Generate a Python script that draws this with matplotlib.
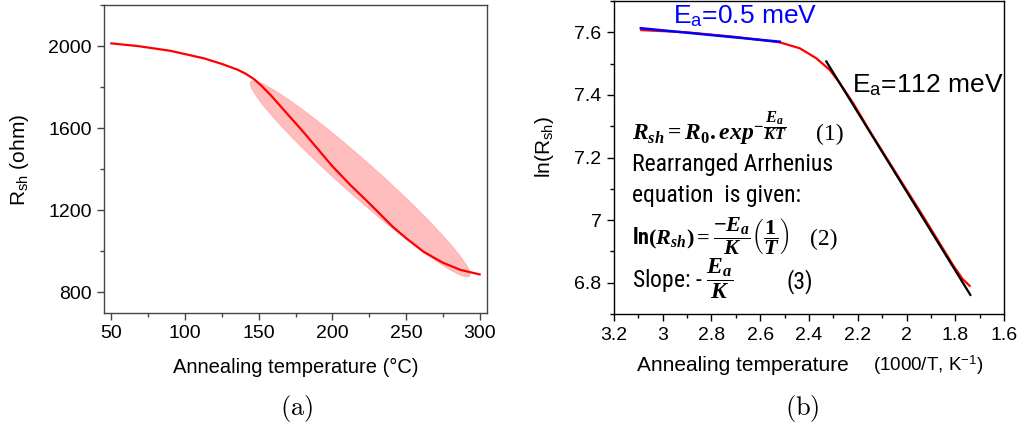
import matplotlib
matplotlib.use("Agg")
import matplotlib.pyplot as plt
import numpy as np
from matplotlib import font_manager
from matplotlib.patches import Polygon
from matplotlib.ticker import FuncFormatter, MultipleLocator

# panel (a): sheet resistance vs annealing temperature
temp_c = [50, 68, 90, 113, 125, 136, 141, 147, 152, 158, 164, 170, 175, 181, 190, 200, 212, 225,
          241, 250, 262, 275, 287, 300]
r_sh = [2013, 2000, 1977, 1940, 1913, 1884, 1866, 1838, 1806, 1762, 1714, 1665, 1625, 1576, 1500,
        1415, 1325, 1235, 1120, 1065, 998, 945, 910, 888]
# highlighted region (ends of the ellipse, data coords)
ellipse_ends = [(144.6, 1827), (293.2, 880)]

# panel (b): Arrhenius plot
inv_t = [3.088, 2.903, 2.712, 2.520, 2.438, 2.370, 2.315, 2.274, 2.219, 2.151, 2.083, 2.014,
         1.946, 1.878, 1.809, 1.770, 1.741]
ln_r = [7.607, 7.600, 7.586, 7.568, 7.549, 7.517, 7.480, 7.438, 7.374, 7.285, 7.200, 7.114,
        7.030, 6.944, 6.856, 6.812, 6.790]
fit_low_x = [3.09, 2.52]
fit_low_y = [7.613, 7.570]
fit_high_x = [2.329, 1.738]
fit_high_y = [7.507, 6.761]

W, H = 1030, 430


def pick_narrow():
    cond = ("condensed", "semi-condensed", "extra-condensed", "ultra-condensed")
    found = []
    for f in font_manager.fontManager.ttflist:
        nm = f.name
        if "Mono" in nm or "Serif" in nm:
            continue
        if f.stretch in cond or "Narrow" in nm or "Condensed" in nm:
            if f.style == "normal":
                found.append((nm, f.stretch))
    pref = ["Liberation Sans Narrow", "Roboto Condensed", "Open Sans Condensed", "Noto Sans", "DejaVu Sans"]
    for p in pref:
        for nm, st in found:
            if nm == p:
                return nm, st
    if found:
        return found[0]
    return None, None


NARROW, NARROW_STRETCH = pick_narrow()
if NARROW is None:
    NARROW, NARROW_STRETCH, NARROW_SIZE = "Liberation Sans", "normal", 15
else:
    NARROW_SIZE = 17

plt.rcParams["font.family"] = ["Liberation Sans", "DejaVu Sans"]
plt.rcParams["mathtext.fontset"] = "custom"
plt.rcParams["mathtext.rm"] = "Liberation Serif:bold"
plt.rcParams["mathtext.bf"] = "Liberation Serif:bold"
plt.rcParams["mathtext.it"] = "Liberation Serif:italic:bold"
plt.rcParams["mathtext.sf"] = "Liberation Sans:bold"


def fx(px):
    return px / W


def fy(py):
    return 1 - py / H


def style_axes(ax, color):
    for s in ax.spines.values():
        s.set_color(color)
        s.set_linewidth(1.0)
    ax.tick_params(which="major", direction="out", length=5, width=1, labelsize=14, pad=4, color=color)
    ax.tick_params(which="minor", direction="out", length=3, width=1, color=color)
    ax.xaxis.set_major_formatter(FuncFormatter(lambda v, p: f"{v:g}"))
    ax.yaxis.set_major_formatter(FuncFormatter(lambda v, p: f"{v:g}"))


def narrow_text(x, y, s, **kw):
    kw.setdefault("fontsize", NARROW_SIZE)
    return fig.text(x, y, s, family=NARROW, stretch=NARROW_STRETCH, va="baseline", **kw)


fig = plt.figure(figsize=(W / 100, H / 100), dpi=100)

# ---- (a)
ax1 = fig.add_axes([fx(104), fy(313), (487 - 104) / W, (313 - 5) / H])
ax1.set_xlim(45, 305)
ax1.set_ylim(700, 2200)
ax1.xaxis.set_major_locator(MultipleLocator(50))
ax1.xaxis.set_minor_locator(MultipleLocator(25))
ax1.yaxis.set_minor_locator(MultipleLocator(200))
ax1.set_yticks([800, 1200, 1600, 2000])
style_axes(ax1, "#444444")

p1 = ax1.transData.transform(ellipse_ends[0])
p2 = ax1.transData.transform(ellipse_ends[1])
c = (p1 + p2) / 2
u = (p2 - p1) / 2
n = np.array([-u[1], u[0]]) / np.hypot(*u) * 17
t = np.linspace(0, 2 * np.pi, 240)
pts = c + np.cos(t)[:, None] * u + np.sin(t)[:, None] * n
pts = ax1.transData.inverted().transform(pts)
ax1.add_patch(Polygon(pts, closed=True, facecolor=(1, 0, 0, 0.26), edgecolor=(1, 0, 0, 0.12), lw=1, zorder=1))
ax1.plot(temp_c, r_sh, color="#ff0000", lw=1.6, zorder=3)

fig.text(fx(296), fy(373), "Annealing temperature (°C)", ha="center", va="baseline", fontsize=14.5)
fig.text(fx(20), fy(160), r"R$_\mathregular{sh}$ (ohm)", ha="center", va="center", rotation=90, fontsize=15)
fig.text(fx(297), fy(409), r"$\mathrm{(a)}$", ha="center", va="center", fontsize=19, math_fontfamily="cm")

# ---- (b)
ax2 = fig.add_axes([fx(614), fy(314), (1004 - 614) / W, (314 - 1) / H])
ax2.set_xlim(3.2, 1.6)
ax2.set_ylim(6.7, 7.7)
ax2.xaxis.set_major_locator(MultipleLocator(0.2))
ax2.xaxis.set_minor_locator(MultipleLocator(0.1))
ax2.yaxis.set_minor_locator(MultipleLocator(0.1))
ax2.set_yticks([6.8, 7.0, 7.2, 7.4, 7.6])
style_axes(ax2, "black")

ax2.plot(inv_t, ln_r, color="#ff0000", lw=1.6, zorder=2)
ax2.plot(fit_low_x, fit_low_y, color="#0000ff", lw=1.8, zorder=3)
ax2.plot(fit_high_x, fit_high_y, color="black", lw=1.6, zorder=3)

fig.text(fx(673), fy(23), r"E$_\mathregular{a}$=0.5 meV", color="#0000ff", fontsize=19, va="baseline")
fig.text(fx(852), fy(92), r"E$_\mathregular{a}$=112 meV", color="black", fontsize=19, va="baseline")

fig.text(fx(632), fy(140), r"$R_{sh}=R_{0}.exp^{-\dfrac{E_a}{KT}}$", fontsize=17, va="baseline")
fig.text(fx(816), fy(140), "(1)", fontsize=17, family="Liberation Serif", va="baseline")
narrow_text(fx(632), fy(171), "Rearranged Arrhenius")
narrow_text(fx(632), fy(202), "equation  is given:")
narrow_text(fx(632), fy(244), r"ln$(R_{sh})=\dfrac{-E_a}{K}\left(\dfrac{1}{T}\right)$",
            weight="bold", fontsize=16)
fig.text(fx(810), fy(245), "(2)", fontsize=17, family="Liberation Serif", va="baseline")
narrow_text(fx(632), fy(288), r"Slope: - $\dfrac{E_a}{K}$")
narrow_text(fx(787), fy(288), "(3)")

fig.text(fx(637), fy(371), "Annealing temperature", fontsize=15, va="baseline")
fig.text(fx(873), fy(371), r"(1000/T, K$^{\mathregular{-1}}$)", fontsize=13.5, va="baseline")
fig.text(fx(545), fy(147), r"ln(R$_\mathregular{sh}$)", ha="center", va="center", rotation=90, fontsize=15)
fig.text(fx(802), fy(409), r"$\mathrm{(b)}$", ha="center", va="center", fontsize=19, math_fontfamily="cm")

fig.savefig("out.png", dpi=100)
